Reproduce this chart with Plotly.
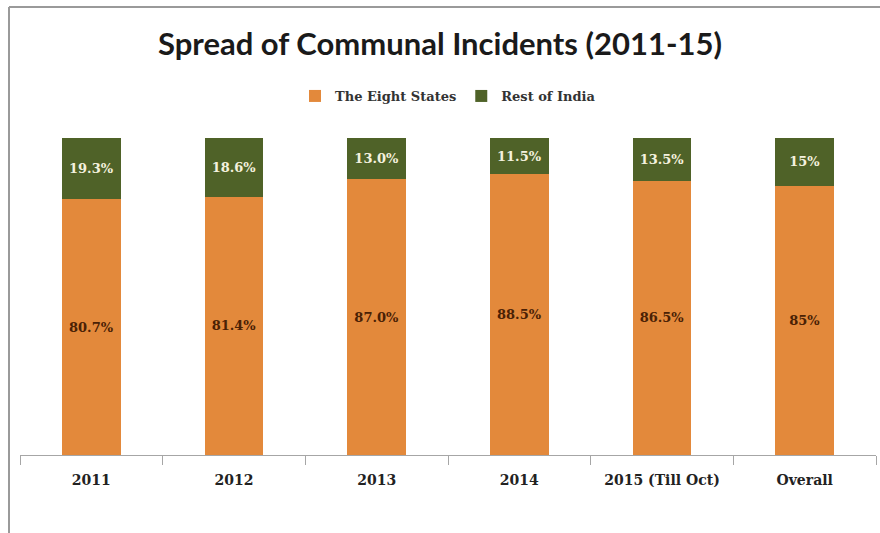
import plotly.graph_objects as go

categories = ["2011", "2012", "2013", "2014", "2015 (Till Oct)", "Overall"]
eight_states = [80.7, 81.4, 87.0, 88.5, 86.5, 85]
rest_of_india = [19.3, 18.6, 13.0, 11.5, 13.5, 15]
eight_labels = ["80.7%", "81.4%", "87.0%", "88.5%", "86.5%", "85%"]
rest_labels = ["19.3%", "18.6%", "13.0%", "11.5%", "13.5%", "15%"]

ORANGE = "#E3893B"
GREEN = "#4F6228"
SERIF = "DejaVu Serif"

fig = go.Figure()
fig.add_trace(go.Bar(
    x=categories, y=eight_states, name="The Eight States",
    marker=dict(color=ORANGE, line=dict(width=0)),
    text=eight_labels, textposition="inside", insidetextanchor="middle",
    textfont=dict(family=SERIF, size=13, color="#4A2105", weight="bold"),
    textangle=0,
))
fig.add_trace(go.Bar(
    x=categories, y=rest_of_india, name="Rest of India",
    marker=dict(color=GREEN, line=dict(width=0)),
    text=rest_labels, textposition="inside", insidetextanchor="middle",
    textfont=dict(family=SERIF, size=13, color="#F4F1DE", weight="bold"),
    textangle=0,
))

W, H = 880, 533
ml, mr, mt, mb = 20, 4, 138, 78
pw, ph = W - ml - mr, H - mt - mb

def px_x(x):
    return (x - ml) / pw

def px_y(y):
    return 1 - (y - mt) / ph

fig.update_layout(
    width=W, height=H,
    margin=dict(l=ml, r=mr, t=mt, b=mb),
    barmode="stack", bargap=0.59,
    paper_bgcolor="white", plot_bgcolor="white",
    title=dict(text="<b>Spread of Communal Incidents (2011-15)</b>",
               x=0.5, xanchor="center", y=1 - 44 / H, yanchor="middle",
               font=dict(family="Lato", size=31, color="#1a1a1a")),
    legend=dict(orientation="h", x=0.5, xanchor="center",
                y=px_y(96), yanchor="middle",
                font=dict(family=SERIF, size=13, color="#333333", weight="bold"),
                itemwidth=30, traceorder="normal"),
    uniformtext=dict(mode=False),
    showlegend=True,
)
fig.update_xaxes(
    type="category", showline=True, linecolor="#A6A6A6", linewidth=1,
    ticks="outside", tickson="boundaries", ticklen=9, tickcolor="#A6A6A6",
    ticklabelstandoff=12,
    showgrid=False, zeroline=False,
    tickfont=dict(family=SERIF, size=14, color="#222222", weight="bold"),
)
fig.update_yaxes(range=[0, 100], visible=False, showgrid=False, zeroline=False)

# chart border (gray frame at left and top)
fig.add_shape(type="line", xref="paper", yref="paper",
              x0=px_x(9), x1=px_x(880), y0=px_y(7), y1=px_y(7),
              line=dict(color="#9A9A9A", width=2))
fig.add_shape(type="line", xref="paper", yref="paper",
              x0=px_x(9), x1=px_x(9), y0=px_y(7), y1=px_y(533),
              line=dict(color="#9A9A9A", width=2))

fig.write_html("out.html")
